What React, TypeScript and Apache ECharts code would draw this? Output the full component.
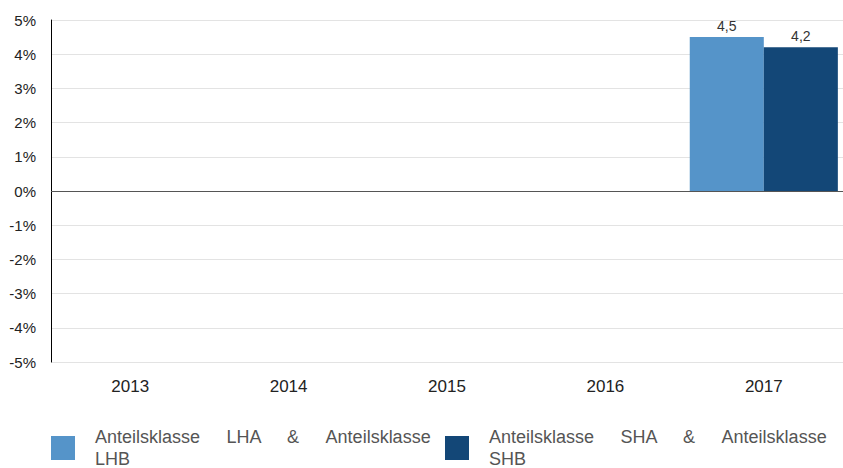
import React, { useEffect, useRef } from "react";
import * as echarts from "echarts";

const categories = ["2013", "2014", "2015", "2016", "2017"];
const seriesNames = [
  "Anteilsklasse LHA & Anteilsklasse LHB",
  "Anteilsklasse SHA & Anteilsklasse SHB",
];
const lhaValues: (number | null)[] = [null, null, null, null, 4.5];
const shaValues: (number | null)[] = [null, null, null, null, 4.2];
const colors = ["#5594c9", "#134777"];
const yMin = -5;
const yMax = 5;
const yInterval = 1;

const font = "'Liberation Sans', Arial, sans-serif";

export default function App() {
  const ref = useRef<HTMLDivElement>(null);
  useEffect(() => {
    if (!ref.current) return;
    const chart = echarts.init(ref.current, null, { renderer: "svg" });
    const legendText = (name: string) => {
      const parts = name.split(" ");
      const last = parts.pop();
      return parts.join("     \u200a") + "\n" + last;
    };
    const valueLabel = {
      show: true,
      position: "top",
      distance: 4,
      fontSize: 14,
      color: "#333",
      fontFamily: font,
      formatter: (p: any) => String(p.value).replace(".", ","),
    };
    chart.setOption({
      animation: false,
      textStyle: { fontFamily: font },
      grid: { left: 51, right: -1, top: 20, bottom: 106, containLabel: false },
      legend: [0, 1].map((i) => ({
        show: true,
        data: [seriesNames[i]],
        left: i === 0 ? 46 : 440,
        top: 421,
        itemWidth: 24,
        itemHeight: 24,
        icon: "rect",
        formatter: legendText,
        selectedMode: false,
        textStyle: {
          fontSize: 18,
          lineHeight: 22,
          color: "#555",
          fontFamily: font,
          padding: [0, 0, 0, 15],
        },
      })),
      xAxis: {
        type: "category",
        data: categories,
        axisLine: { show: false },
        axisTick: { show: false },
        axisLabel: { fontSize: 17, color: "#222", margin: 16, fontFamily: font },
        splitLine: { show: false },
      },
      yAxis: {
        type: "value",
        min: yMin,
        max: yMax,
        interval: yInterval,
        axisLine: { show: true, lineStyle: { color: "#000", width: 1 } },
        axisTick: { show: false },
        axisLabel: {
          fontSize: 15,
          color: "#222",
          margin: 15,
          fontFamily: font,
          formatter: (v: number) => `${v}%`,
        },
        splitLine: { show: true, lineStyle: { color: "#e3e3e3", width: 1 } },
      },
      series: [
        {
          name: seriesNames[0],
          type: "bar",
          data: lhaValues,
          itemStyle: { color: colors[0] },
          barGap: "0%",
          barCategoryGap: "6.5%",
          label: valueLabel,
          markLine: {
            silent: true,
            symbol: "none",
            label: { show: false },
            lineStyle: { color: "#555", type: "solid", width: 1.2 },
            data: [{ yAxis: 0 }],
          },
          z: 3,
        },
        {
          name: seriesNames[1],
          type: "bar",
          data: shaValues,
          itemStyle: { color: colors[1] },
          barGap: "0%",
          barCategoryGap: "6.5%",
          label: valueLabel,
          z: 3,
        },
      ],
    });
    return () => chart.dispose();
  }, []);
  return <div ref={ref} style={{ width: 843, height: 468, position: "absolute", left: 0, top: 0 }} />;
}
